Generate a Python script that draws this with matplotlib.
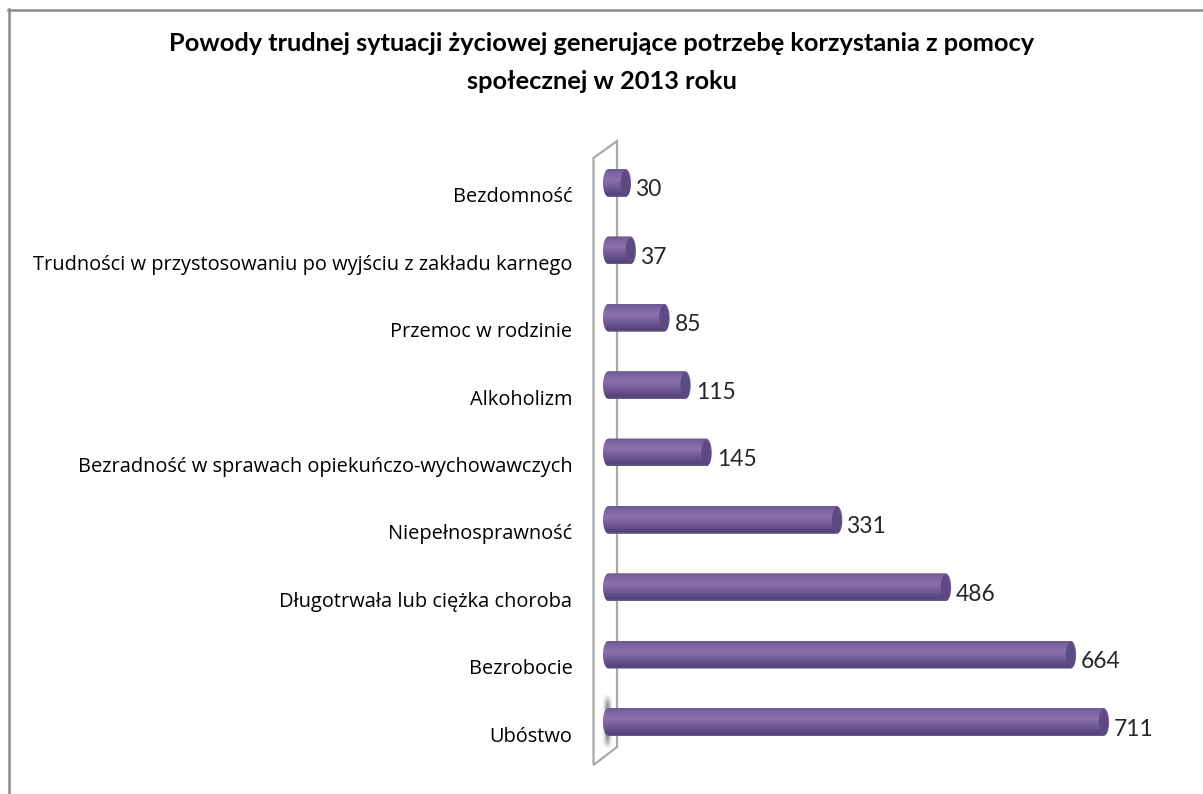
import numpy as np
import matplotlib
matplotlib.use("Agg")
import matplotlib.pyplot as plt
from matplotlib.colors import LinearSegmentedColormap
from matplotlib.patches import Ellipse, PathPatch, Polygon
from matplotlib.path import Path
from matplotlib.transforms import ScaledTranslation

plt.rcParams['font.family'] = ['Lato', 'DejaVu Sans']

W, H = 1203, 794

title = "Powody trudnej sytuacji życiowej generujące potrzebę korzystania z pomocy\nspołecznej w 2013 roku"
categories = [
    "Ubóstwo",
    "Bezrobocie",
    "Długotrwała lub ciężka choroba",
    "Niepełnosprawność",
    "Bezradność w sprawach opiekuńczo-wychowawczych",
    "Alkoholizm",
    "Przemoc w rodzinie",
    "Trudności w przystosowaniu po wyjściu z zakładu karnego",
    "Bezdomność",
]
values = [711, 664, 486, 331, 145, 115, 85, 37, 30]

fig = plt.figure(figsize=(W / 100, H / 100), dpi=100, facecolor="white")

# tlo w pikselach: ramka, sciana wykresu
bg = fig.add_axes([0, 0, 1, 1])
bg.set_xlim(0, W)
bg.set_ylim(H, 0)
bg.axis("off")
bg.plot([8.5, 8.5], [H, 9], color="#8c8c8c", lw=1.8)
bg.plot([8, W], [9.5, 9.5], color="#8c8c8c", lw=1.8)
bg.add_patch(Polygon([(593.5, 158), (617, 141), (617, 747), (593.5, 765)], closed=True,
                     fc="white", ec="#a8a8a8", lw=1.6))

# cien przy dolnej krawedzi
yy, xx = np.mgrid[-1:1:60j, -1:1:20j]
shadow = np.exp(-(xx ** 2) * 3 - (yy ** 6) * 2)
shadow_rgba = np.zeros((60, 20, 4))
shadow_rgba[..., :3] = 0.5
shadow_rgba[..., 3] = shadow * 0.9
bg.imshow(shadow_rgba, extent=(602, 613, 748, 695), aspect="auto", zorder=3)
bg.set_xlim(0, W)
bg.set_ylim(H, 0)

# os danych: 0 na x=610, 0.702 px na jednostke, troche miejsca na lewy koniec walca
x0, scale = 610, 0.702
xmin, xmax = -14, 800
y_top, y_bot = 183 - 67.4 / 2, 722 + 67.4 / 2
ax = fig.add_axes([(x0 + xmin * scale) / W, 1 - y_bot / H, (xmax - xmin) * scale / W, (y_bot - y_top) / H])
ax.patch.set_alpha(0)
for s in ax.spines.values():
    s.set_visible(False)
ax.set_xticks([])

cmap = LinearSegmentedColormap.from_list("bar", [
    (0.0, "#6c5a92"), (0.12, "#7a649f"), (0.38, "#8b70af"),
    (0.7, "#6d5693"), (0.92, "#54427a"), (1.0, "#6a5a8c"),
])
grad = np.linspace(0, 1, 64).reshape(-1, 1)

bar_h = 0.415
end_w = 8
start = -10
theta = np.linspace(-np.pi / 2, np.pi / 2, 40)
for i, v in enumerate(values):
    # ksztalt walca: dwa zaokraglone konce
    px = np.concatenate([v - end_w + end_w * np.cos(theta),
                         start + end_w - end_w * np.cos(theta[::-1])])
    py = np.concatenate([i + bar_h / 2 * np.sin(theta),
                         i + bar_h / 2 * np.sin(theta[::-1])])
    patch = PathPatch(Path(np.column_stack([px, py])), fc="none", ec="none", transform=ax.transData)
    ax.add_patch(patch)
    im = ax.imshow(grad, cmap=cmap, vmin=0, vmax=1, aspect="auto", origin="upper",
                   extent=(start, v, i - bar_h / 2, i + bar_h / 2), zorder=4)
    im.set_clip_path(patch)
    ax.add_patch(Ellipse((v - end_w, i), end_w * 1.7, bar_h * 0.9, fc="#5b4a83", ec="none", zorder=5))
    ax.annotate(str(v), xy=(v, i), xytext=(5, -7), textcoords="offset pixels",
                ha="left", va="center", fontsize=16.4, color="#262626", zorder=6)

ax.set_xlim(xmin, xmax)
ax.set_ylim(-0.5, 8.5)
ax.set_yticks(range(len(categories)))
ax.set_yticklabels(categories, fontsize=14.4, color="black", family=['Open Sans', 'DejaVu Sans'])
ax.tick_params(axis="y", length=0, pad=20)
off = ScaledTranslation(0, -12 / 100, fig.dpi_scale_trans)
for lab in ax.get_yticklabels():
    lab.set_transform(lab.get_transform() + off)

fig.text(602 / W, 1 - 62.5 / H, title, ha="center", va="center", fontsize=18.3,
         fontweight="bold", color="black", linespacing=1.76)

fig.savefig("out.png", dpi=100)
